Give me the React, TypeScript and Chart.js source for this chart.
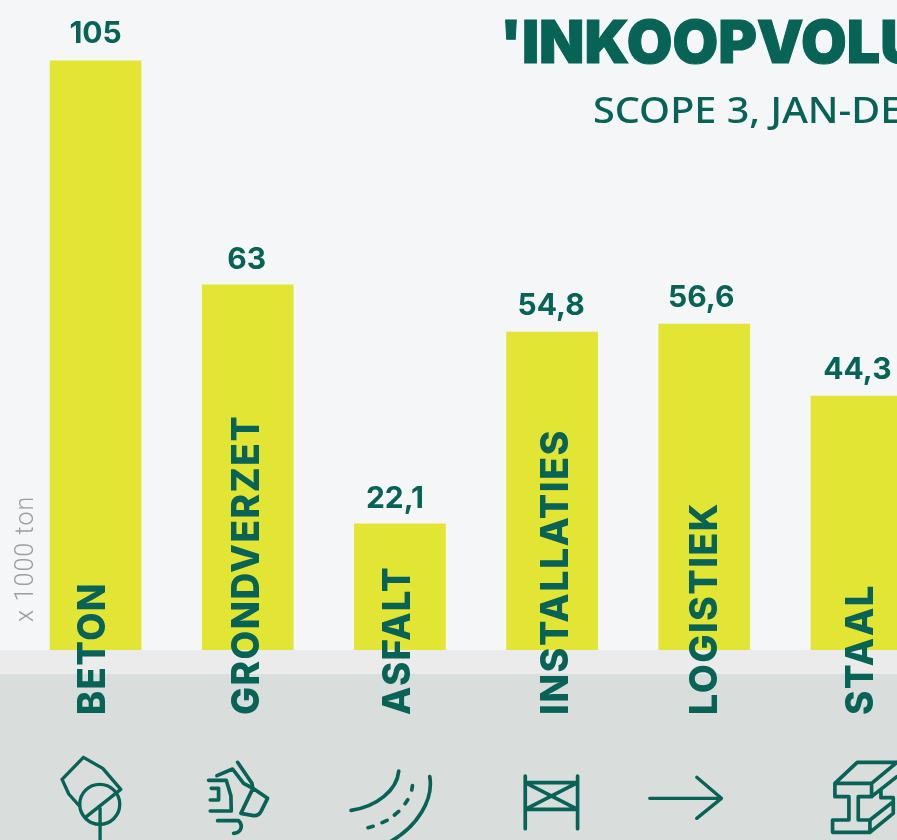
import React, { useEffect, useRef } from "react";
import { Chart, registerables } from "chart.js";

Chart.register(...registerables);

const categories = ["BETON", "GRONDVERZET", "ASFALT", "INSTALLATIES", "LOGISTIEK", "STAAL"];
const barHeights = [102.3, 63.4, 21.9, 55.2, 56.6, 44.1];
const valueLabels = ["105", "63", "22,1", "54,8", "56,6", "44,3"];
const titleText = "'INKOOPVOLU";
const subtitleText = "SCOPE 3, JAN-DE";
const unitText = "x 1000 ton";

const GREEN = "#066355";
const YELLOW = "#e3e535";
const labelNudge = [9.5, 11.5, 10.5, 15.5, 12.5, 16.5];
const labelLengths = [133, 300, 149, 286, 213, 131];
const valueNudge = [0, -1, -5, -1, -3, 1];
const valueLift = [18, 16, 16, 17, 17, 17];

// icon outlines, drawn in 3x units around each category centre
const icons = [
  { ox: 40, oy: 700, cx: 95.5, w: 10, d: "M66 238 L130 172 L188 205 L242 268 L136 352 M66 238 L86 282 L118 318 M239 313 A60 60 0 1 1 119 313 A60 60 0 1 1 239 313 M180 325 L180 420" },
  { ox: 200, oy: 755, cx: 247.5, w: 11, d: "M112 22 L155 85 L158 100 L202 130 L182 170 Q175 183 160 182 L122 175 L158 100 M50 62 L97 42 L130 85 L158 100 M25 76 L78 76 L92 122 L93 168 L30 168 M33 100 L55 100 L55 135 L30 135 M52 197 L115 197 Q128 210 120 225 Q113 235 100 235" },
  { ox: 340, oy: 760, cx: 399.5, w: 11, d: "M175 33 C170 90 110 140 32 151 M268 50 C280 120 230 200 150 245 M214 90 L216 77 M194 131 L202 119 M162 165 L175 154 M125 188 L140 181 M83 203 L98 199" },
  { ox: 450, oy: 640, cx: 551.5, w: 11, d: "M224 408 L224 566 M381 408 L381 566 M224 428 L381 428 M224 508 L381 508 M224 428 L381 508 M381 428 L224 508" },
  { ox: 450, oy: 640, cx: 704.5, w: 10, d: "M600 475 L815 475 M741 412 L815 475 L741 535" },
  { ox: 825, oy: 755, cx: 856.5, w: 11, d: "M30 85 L140 85 L140 125 L100 125 L100 195 L135 195 L135 232 L23 232 L23 195 L72 195 L72 125 L30 125 Z M30 85 L97 22 L216 22 M140 85 L216 22 M140 125 L216 65 M168 105 L168 128 L205 128 L205 175 L135 232 M135 195 L205 140" },
];

const decor = {
  id: "decor",
  beforeDraw(chart: any) {
    const { ctx, chartArea, width, height } = chart;
    ctx.save();
    ctx.fillStyle = "#f4f6f8";
    ctx.fillRect(0, 0, width, height);
    ctx.fillStyle = "#ebebeb";
    ctx.fillRect(0, chartArea.bottom, width, 24);
    ctx.fillStyle = "#d9dddc";
    ctx.fillRect(0, chartArea.bottom + 24, width, height - chartArea.bottom - 24);
    ctx.restore();
  },
  afterDatasetsDraw(chart: any) {
    const { ctx, scales } = chart;
    const meta = chart.getDatasetMeta(0);
    ctx.save();
    ctx.fillStyle = GREEN;
    ctx.strokeStyle = GREEN;
    ctx.textBaseline = "alphabetic";

    // values above bars
    ctx.textAlign = "center";
    ctx.font = "700 30px Inter";
    meta.data.forEach((bar: any, i: number) => {
      ctx.fillText(valueLabels[i], bar.x + valueNudge[i], bar.y - valueLift[i]);
    });

    // rotated category labels, fitted to their measured length
    categories.forEach((c, i) => {
      const x = scales.x.getPixelForValue(i) + labelNudge[i];
      ctx.save();
      ctx.font = "800 38.5px Inter";
      ctx.letterSpacing = "1.5px";
      ctx.textAlign = "left";
      const natural = ctx.measureText(c).width;
      ctx.translate(x, 715);
      ctx.rotate(-Math.PI / 2);
      ctx.scale(labelLengths[i] / natural, 1);
      ctx.fillText(c, 0, 0);
      ctx.restore();
    });

    // icons
    icons.forEach((ic, i) => {
      const x = scales.x.getPixelForValue(i);
      ctx.save();
      ctx.translate(x + ic.ox - ic.cx, ic.oy);
      ctx.scale(1 / 3, 1 / 3);
      ctx.lineWidth = ic.w;
      ctx.lineCap = "round";
      ctx.lineJoin = "round";
      ctx.stroke(new Path2D(ic.d));
      ctx.restore();
    });

    // title
    ctx.textAlign = "left";
    ctx.save();
    ctx.translate(500, 63);
    ctx.font = "900 59px Inter";
    ctx.lineWidth = 1;
    ctx.fillText(titleText, 0, 0);
    ctx.strokeText(titleText, 0, 0);
    ctx.restore();
    ctx.save();
    ctx.translate(593, 123);
    ctx.scale(1.07, 1);
    ctx.font = "500 37px 'Noto Sans'";
    ctx.fillText(subtitleText, 0, 0);
    ctx.restore();

    // unit
    ctx.save();
    ctx.translate(33, 622);
    ctx.rotate(-Math.PI / 2);
    ctx.fillStyle = "#9a9ea0";
    ctx.font = "300 25px Roboto";
    ctx.letterSpacing = "1.1px";
    ctx.fillText(unitText, 0, 0);
    ctx.restore();
    ctx.restore();
  },
};

export default function App() {
  const ref = useRef<HTMLCanvasElement>(null);
  useEffect(() => {
    const chart = new Chart(ref.current!, {
      type: "bar",
      data: {
        labels: categories,
        datasets: [{ data: barHeights, backgroundColor: YELLOW, borderWidth: 0, barThickness: 91 }],
      },
      options: {
        animation: false,
        responsive: false,
        layout: { padding: { left: 19.5, right: 0.5, top: 0, bottom: 190 } },
        plugins: { legend: { display: false }, tooltip: { enabled: false } },
        scales: {
          x: { display: false, offset: true, grid: { display: false } },
          y: { display: false, min: 0, max: 112.85, grid: { display: false } },
        },
      },
      plugins: [decor],
    } as any);
    return () => chart.destroy();
  }, []);
  return (
    <div style={{ position: "fixed", left: 0, top: 0, width: 897, height: 840, overflow: "hidden" }}>
      <canvas ref={ref} width={933} height={840} style={{ display: "block" }} />
    </div>
  );
}
